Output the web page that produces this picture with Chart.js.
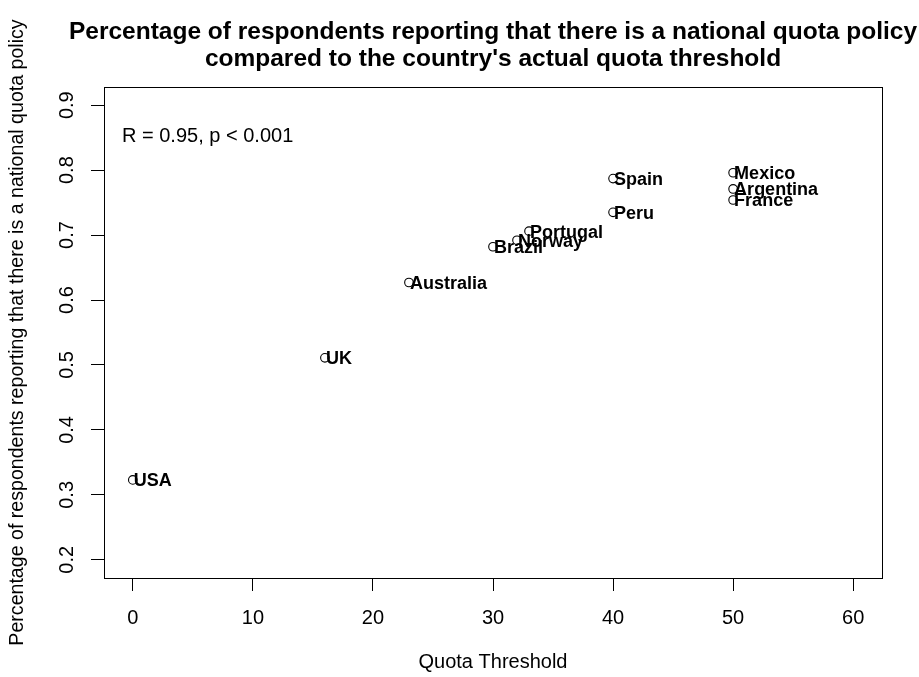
<!DOCTYPE html>
<html>
<head>
<meta charset="utf-8">
<script src="https://cdn.jsdelivr.net/npm/chart.js@4/dist/chart.umd.min.js"></script>
<style>
  html, body { margin: 0; padding: 0; background: #fff; }
  #c { display: block; }
</style>
</head>
<body>
<canvas id="c" width="919" height="677"></canvas>
<script>
// Country data: quota threshold (%) and share of respondents aware of a national quota
const countries = ['USA', 'UK', 'Australia', 'Brazil', 'Norway', 'Portugal', 'Peru', 'Spain', 'France', 'Argentina', 'Mexico'];
const quotaThreshold = [0, 16, 23, 30, 32, 33, 40, 40, 50, 50, 50];
const reportedShare = [0.323, 0.511, 0.627, 0.682, 0.692, 0.706, 0.735, 0.787, 0.754, 0.771, 0.796];

const xTicks = [0, 10, 20, 30, 40, 50, 60];
const yTicks = [0.2, 0.3, 0.4, 0.5, 0.6, 0.7, 0.8, 0.9];
const yTickLabels = ['0.2', '0.3', '0.4', '0.5', '0.6', '0.7', '0.8', '0.9'];

const titleLines = [
  'Percentage of respondents reporting that there is a national quota policy',
  "compared to the country's actual quota threshold"
];
const xTitle = 'Quota Threshold';
const yTitle = 'Percentage of respondents reporting that there is a national quota policy';
const corrText = 'R = 0.95, p < 0.001';

const FONT = '"Liberation Sans", Arial, Helvetica, sans-serif';
const TEXT_SIZE = 20;
const TITLE_SIZE = 24.5;
const LABEL_SIZE = 18;

// Axis ranges padded 4% on each side, like a classic base-graphics plot
const xMin = 0, xMax = 60, yMin = 0.2, yMax = 0.9;
const xPad = (xMax - xMin) * 0.04, yPad = (yMax - yMin) * 0.04;

const points = quotaThreshold.map((q, i) => ({ x: q, y: reportedShare[i] }));

// Two-line title centred over the plotting region (allowed to run past its edges)
const titlePlugin = {
  id: 'plotTitle',
  afterDraw(chart) {
    const { ctx, chartArea: a } = chart;
    const cx = (a.left + a.right) / 2;
    ctx.save();
    ctx.fillStyle = '#000';
    ctx.font = 'bold ' + TITLE_SIZE + 'px ' + FONT;
    ctx.textAlign = 'center';
    ctx.textBaseline = 'alphabetic';
    titleLines.forEach((line, i) => {
      ctx.fillText(line, cx, 30 + i * 27 + TITLE_SIZE * 0.36);
    });
    ctx.restore();
  }
};

// Frame around the plotting region
const framePlugin = {
  id: 'frame',
  afterDraw(chart) {
    const { ctx, chartArea: a } = chart;
    ctx.save();
    ctx.strokeStyle = '#000';
    ctx.lineWidth = 1;
    ctx.strokeRect(Math.round(a.left) + 0.5, Math.round(a.top) + 0.5,
                   Math.round(a.right - a.left), Math.round(a.bottom - a.top));
    ctx.restore();
  }
};

// Vertical tick labels on the y axis (read bottom to top)
const yLabelPlugin = {
  id: 'yLabels',
  afterDraw(chart) {
    const { ctx } = chart;
    const ys = chart.scales.y;
    ctx.save();
    ctx.fillStyle = '#000';
    ctx.font = TEXT_SIZE + 'px ' + FONT;
    ctx.textAlign = 'center';
    ctx.textBaseline = 'middle';
    yTicks.forEach((v, i) => {
      const py = ys.getPixelForValue(v);
      ctx.save();
      ctx.translate(ys.right - 37, py);
      ctx.rotate(-Math.PI / 2);
      ctx.fillText(yTickLabels[i], 0, 0);
      ctx.restore();
    });
    ctx.restore();
  }
};

// Country names beside each point, plus the correlation note
const pointLabelPlugin = {
  id: 'pointLabels',
  afterDatasetsDraw(chart) {
    const { ctx } = chart;
    const meta = chart.getDatasetMeta(0);
    ctx.save();
    ctx.fillStyle = '#000';
    ctx.font = 'bold ' + LABEL_SIZE + 'px ' + FONT;
    ctx.textAlign = 'left';
    ctx.textBaseline = 'alphabetic';
    meta.data.forEach((el, i) => {
      ctx.fillText(countries[i], el.x + 1, el.y + LABEL_SIZE * 0.36);
    });
    const xs = chart.scales.x, ys = chart.scales.y;
    ctx.font = TEXT_SIZE + 'px ' + FONT;
    ctx.fillText(corrText, xs.getPixelForValue(-0.9), ys.getPixelForValue(0.855) + TEXT_SIZE * 0.36);
    ctx.restore();
  }
};

const gridOpts = {
  drawOnChartArea: false,
  drawTicks: true,
  tickLength: 13,
  color: '#000',
  lineWidth: 1
};

new Chart(document.getElementById('c'), {
  type: 'scatter',
  data: {
    datasets: [{
      data: points,
      pointStyle: 'circle',
      pointRadius: 4.3,
      pointBorderWidth: 1.1,
      pointBorderColor: '#000',
      pointBackgroundColor: 'rgba(0,0,0,0)'
    }]
  },
  options: {
    responsive: false,
    animation: false,
    devicePixelRatio: 1,
    events: [],
    layout: { padding: { left: 0, right: 37, top: 87, bottom: 0 } },
    plugins: {
      legend: { display: false },
      tooltip: { enabled: false },
      title: { display: false }
    },
    scales: {
      x: {
        type: 'linear',
        min: xMin - xPad,
        max: xMax + xPad,
        afterBuildTicks: s => { s.ticks = xTicks.map(v => ({ value: v })); },
        afterFit: s => { s.height = 99; },
        grid: gridOpts,
        border: { display: false },
        ticks: {
          color: '#000',
          font: { family: FONT, size: TEXT_SIZE },
          padding: 15,
          maxRotation: 0,
          autoSkip: false,
          callback: v => String(v)
        },
        title: {
          display: true,
          text: xTitle,
          color: '#000',
          font: { family: FONT, size: TEXT_SIZE },
          padding: { top: 0, bottom: 3 }
        }
      },
      y: {
        type: 'linear',
        min: yMin - yPad,
        max: yMax + yPad,
        afterBuildTicks: s => { s.ticks = yTicks.map(v => ({ value: v })); },
        afterFit: s => { s.width = 104; },
        grid: gridOpts,
        border: { display: false },
        ticks: { display: false },
        title: {
          display: true,
          text: yTitle,
          color: '#000',
          font: { family: FONT, size: 19.6 },
          padding: { top: 6, bottom: 0 }
        }
      }
    }
  },
  plugins: [titlePlugin, framePlugin, yLabelPlugin, pointLabelPlugin]
});
</script>
</body>
</html>
